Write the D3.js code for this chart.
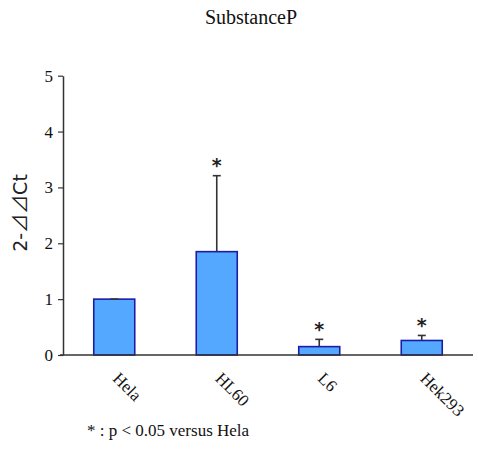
<!DOCTYPE html>
<html><head><meta charset="utf-8">
<script src="https://cdn.jsdelivr.net/npm/d3@7"></script>
<style>body{margin:0;background:#fff}svg{display:block}</style>
</head><body>
<script>
const title = "SubstanceP";
const categories = ["Hela", "HL60", "L6", "Hek293"];
const values = [1.0, 1.85, 0.15, 0.26];
const errors = [0.0, 1.36, 0.13, 0.09];
const significant = [false, true, true, true];
const yTicks = [0, 1, 2, 3, 4, 5];
const yLabelParts = ["2-", "⊿⊿", "Ct"];
const footnote = "* : p < 0.05 versus Hela";

const W = 478, H = 459;
const svg = d3.select("body").append("svg").attr("width", W).attr("height", H);
const x = d3.scaleBand().domain(categories).range([63, 473]).paddingInner(0.6).paddingOuter(0.3);
const y = d3.scaleLinear().domain([0, 5]).range([355, 75.7]);
const serif = "'Liberation Serif', 'Times New Roman', serif";

svg.append("text").attr("x", 251).attr("y", 24).attr("text-anchor", "middle")
  .attr("font-family", serif).attr("font-size", 20).attr("fill", "#111").text(title);

// bars
svg.selectAll("rect.bar").data(categories).join("rect")
  .attr("x", d => x(d)).attr("width", x.bandwidth())
  .attr("y", (d, i) => y(values[i])).attr("height", (d, i) => y(0) - y(values[i]))
  .attr("fill", "#55a8ff").attr("stroke", "#1c1ca8").attr("stroke-width", 1.6);

// error bars
const eg = svg.append("g").attr("stroke", "#333").attr("stroke-width", 1.6);
categories.forEach((c, i) => {
  const cx = x(c) + x.bandwidth() / 2;
  const top = y(values[i] + errors[i]);
  eg.append("line").attr("x1", cx).attr("x2", cx).attr("y1", y(values[i])).attr("y2", top);
  eg.append("line").attr("x1", cx - 4).attr("x2", cx + 4).attr("y1", top).attr("y2", top);
  if (significant[i]) {
    svg.append("text").attr("x", cx).attr("y", top - 15).attr("text-anchor", "middle")
      .attr("font-family", "'DejaVu Sans', sans-serif").attr("font-size", 19).attr("font-weight", "bold")
      .attr("fill", "#222").attr("dy", "0.62em").text("*");
  }
});

// y axis
const ya = svg.append("g").attr("transform", "translate(63,0)")
  .call(d3.axisLeft(y).tickValues(yTicks).tickFormat(d3.format("d")).tickSize(5).tickSizeOuter(0));
ya.attr("font-family", serif);
ya.select(".domain").attr("stroke", "#333").attr("stroke-width", 1.5);
ya.selectAll(".tick line").attr("stroke", "#333").attr("stroke-width", 1.2);
ya.selectAll(".tick text").attr("font-family", serif).attr("font-size", 17).attr("fill", "#111").attr("x", -10);

// x axis baseline
svg.append("line").attr("x1", 60).attr("x2", 473).attr("y1", y(0)).attr("y2", y(0))
  .attr("stroke", "#333").attr("stroke-width", 1.6);

// x labels
svg.selectAll("text.xl").data(categories).join("text")
  .attr("transform", d => `translate(${x(d) + x.bandwidth() / 2 + 6},371) rotate(45)`)
  .attr("dy", "0.7em").attr("font-family", serif).attr("font-size", 17).attr("fill", "#111").text(d => d);

// y label
const yl = svg.append("text").attr("transform", "translate(27,213) rotate(-90)").attr("text-anchor", "middle")
  .attr("font-family", "'DejaVu Sans', sans-serif").attr("font-size", 19).attr("fill", "#222");
yl.append("tspan").text(yLabelParts[0]);
yl.append("tspan").attr("font-family", "'Noto Sans CJK JP', sans-serif").text(yLabelParts[1]);
yl.append("tspan").text(yLabelParts[2]);

// footnote
svg.append("text").attr("x", 87).attr("y", 436).attr("font-family", serif).attr("font-size", 17)
  .attr("fill", "#111").text(footnote);
</script>
</body></html>
